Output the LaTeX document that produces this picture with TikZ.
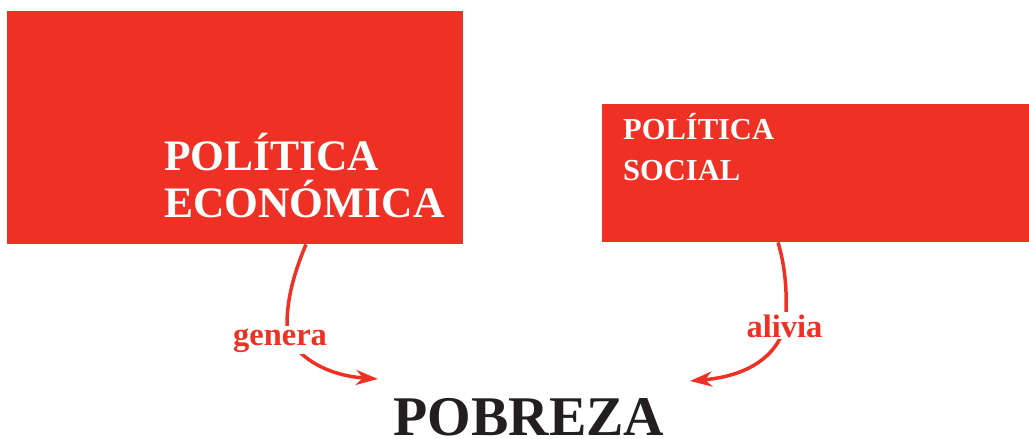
\documentclass[tikz,border=0pt]{standalone}
\usepackage{fontspec}
\setmainfont{Liberation Serif}
\usetikzlibrary{arrows.meta}
\definecolor{pred}{HTML}{EE3124}
\definecolor{pdark}{HTML}{231F20}
\tikzset{
  box/.style={fill=pred, draw=none, inner sep=0pt},
  boxtext/.style={text=white, font=\bfseries, align=left, inner sep=0pt},
  lbl/.style={text=pred, font=\bfseries\fontsize{32.5}{32}\selectfont, fill=white, inner sep=2pt},
  conn/.style={draw=pred, line width=3.5pt, -{Stealth[length=22pt,width=15pt,inset=7pt]}}
}
\begin{document}
\begin{tikzpicture}[x=1pt,y=-1pt]
\useasboundingbox (0,0) rectangle (1029,439);
\node[box, minimum width=456pt, minimum height=233pt, anchor=north west] (pe) at (7,11) {};
\node[box, minimum width=427pt, minimum height=138pt, anchor=north west] (ps) at (602,104) {};
\node[boxtext, font=\bfseries\fontsize{43.5}{47}\selectfont, anchor=base west] (pet) at (164,217) {POLÍTICA\\ECONÓMICA};
\node[boxtext, font=\bfseries\fontsize{30.5}{41}\selectfont, anchor=base west] (pst) at (623,180) {POLÍTICA\\SOCIAL};
\node[text=pdark, font=\bfseries\fontsize{56}{56}\selectfont, anchor=base] (pob) at (529,435) {POBREZA};
\coordinate (pobL) at (378,379);
\coordinate (pobR) at (690,381);
\draw[conn] (pe.south west) ++(299,0) .. controls +(-13,31) and +(0,-25) .. (287,325) .. controls +(0,25) and +(-58,-4) .. (pobL);
\draw[conn] (ps.south west) ++(176,0) .. controls +(7,23) and +(1,-25) .. (786,315) .. controls +(-1,30) and +(70,-6) .. (pobR);
\node[lbl, anchor=base] (gen) at (280,345) {genera};
\node[lbl, anchor=base] (ali) at (784.5,337) {alivia};
\end{tikzpicture}
\end{document}
